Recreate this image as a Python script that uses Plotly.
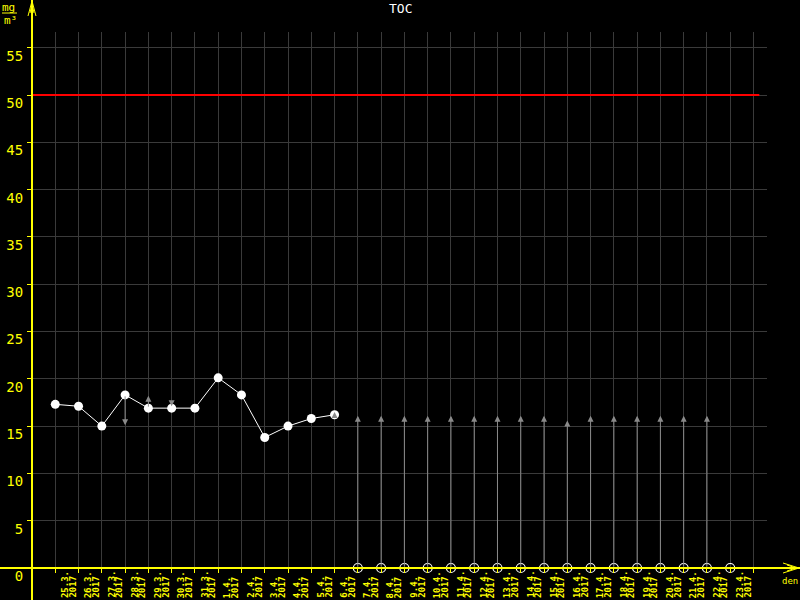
import plotly.graph_objects as go

# ---- data ----
day_labels = ["25.3.", "26.3.", "27.3.", "28.3.", "29.3.", "30.3.", "31.3.",
              "1.4.", "2.4.", "3.4.", "4.4.", "5.4.", "6.4.", "7.4.", "8.4.",
              "9.4.", "10.4.", "11.4.", "12.4.", "13.4.", "14.4.", "15.4.",
              "16.4.", "17.4.", "18.4.", "19.4.", "20.4.", "21.4.", "22.4.", "23.4."]
year = "2017"
toc_values = [17.3, 17.1, 15.0, 18.3, 16.9, 16.9, 16.9, 20.1, 18.3, 13.8, 15.0, 15.8, 16.2]
missing_days = list(range(13, 30))
# estimate arrows: (day, from, to)
est_days = [3, 4, 5, 12] + list(range(13, 29))
est_from = [18.3, 16.9, 17.6, 16.0] + [0] * 16
est_to = [15.1, 18.2, 17.1, 16.5] + [16.1] * 9 + [15.6] + [16.1] * 6
limit_value = 50
y_ticks = list(range(0, 60, 5))

# ---- geometry helpers (pixels -> paper) ----
L, R, T, B = 32, 33, 32, 32
W, H = 800, 600
PW, PH = W - L - R, H - T - B
def px(x):
    return (x - L) / PW
def py(y):
    return (H - B - y) / PH

YEL = "#ffff00"
GRID = "#3a3a3a"
GRAY = "#8a8a8a"
FONT = "DejaVu Sans Mono"

fig = go.Figure()

# limit line
fig.add_trace(go.Scatter(x=[-1, 30.25], y=[limit_value, limit_value], mode="lines",
                         line=dict(color="#ff0000", width=2), hoverinfo="skip"))

# measured values
fig.add_trace(go.Scatter(x=list(range(len(toc_values))), y=toc_values, mode="lines+markers",
                         line=dict(color="white", width=1),
                         marker=dict(color="white", size=9), cliponaxis=False))

# missing values
fig.add_trace(go.Scatter(x=missing_days, y=[0] * len(missing_days), mode="markers",
                         marker=dict(symbol="circle-open", color="white", size=9,
                                     line=dict(width=1.2)),
                         cliponaxis=False))

annotations = []
for d, f, t in zip(est_days, est_from, est_to):
    annotations.append(dict(x=d, y=t, ax=d, ay=f, xref="x", yref="y", axref="x", ayref="y",
                            text="", showarrow=True, arrowhead=2, arrowsize=1.2,
                            arrowwidth=1, arrowcolor=GRAY, standoff=0, startstandoff=0))

# x labels (right edge at the tick ending the day), two tight lines
for i, lab in enumerate(day_labels):
    for txt, shift in ((lab, -8), (year, 0)):
        annotations.append(dict(x=i + 1, y=py(599), xref="x", yref="paper",
                                text="<b>" + txt + "</b>", textangle=-90, xshift=shift,
                                xanchor="right", yanchor="bottom",
                                showarrow=False, borderpad=0,
                                font=dict(family=FONT, size=9, color=YEL)))

# title and units
annotations.append(dict(x=px(400), y=py(9), xref="paper", yref="paper", text="TOC",
                        showarrow=False, font=dict(family=FONT, size=13, color="white"),
                        xanchor="center", yanchor="middle"))
annotations.append(dict(x=px(790), y=py(581), xref="paper", yref="paper", text="den",
                        showarrow=False, font=dict(family=FONT, size=9, color=YEL),
                        xanchor="center", yanchor="middle"))
annotations.append(dict(x=px(9), y=py(7), xref="paper", yref="paper", text="mg",
                        showarrow=False, font=dict(family=FONT, size=11, color=YEL),
                        xanchor="center", yanchor="middle"))
annotations.append(dict(x=px(10), y=py(20), xref="paper", yref="paper", text="m³",
                        showarrow=False, font=dict(family=FONT, size=11, color=YEL),
                        xanchor="center", yanchor="middle"))

shapes = [
    # y axis line
    dict(type="line", xref="paper", yref="paper", x0=px(32), x1=px(32), y0=py(600), y1=py(0),
         line=dict(color=YEL, width=2)),
    # x axis line
    dict(type="line", xref="paper", yref="paper", x0=px(0), x1=px(800), y0=py(568), y1=py(568),
         line=dict(color=YEL, width=2)),
    # unit fraction bar
    dict(type="line", xref="paper", yref="paper", x0=px(2), x1=px(17), y0=py(13), y1=py(13),
         line=dict(color=YEL, width=1)),
]
# arrow heads of axes
for (x0, y0, x1, y1) in [(32, 1, 28, 16), (32, 1, 36, 16), (32, 4, 30, 13), (32, 4, 34, 13),
                         (799, 568, 783, 563), (799, 568, 783, 573),
                         (796, 568, 787, 565), (796, 568, 787, 571)]:
    shapes.append(dict(type="line", xref="paper", yref="paper", x0=px(x0), y0=py(y0),
                       x1=px(x1), y1=py(y1), line=dict(color=YEL, width=1)))

fig.update_layout(
    template="none",
    width=W, height=H, margin=dict(l=L, r=R, t=T, b=B, autoexpand=False),
    paper_bgcolor="black", plot_bgcolor="black", showlegend=False,
    annotations=annotations, shapes=shapes,
    xaxis=dict(range=[-1.0, 30.58], tickvals=list(range(0, 31)), showticklabels=False,
               ticks="outside", ticklen=4, tickcolor=YEL, tickwidth=1, automargin=False,
               showgrid=True, gridcolor=GRID, gridwidth=1, zeroline=False, showline=False),
    yaxis=dict(range=[0, 56.66], tickvals=y_ticks, ticks="outside", ticklen=4,
               tickcolor=YEL, tickwidth=1, ticklabelshift=8, ticklabelstandoff=1,
               automargin=False,
               tickfont=dict(family=FONT, size=14, color=YEL),
               showgrid=True, gridcolor=GRID, gridwidth=1, zeroline=False, showline=False),
)

fig.write_html("out.html", config={"displayModeBar": False},
               post_script="document.body.style.margin='0';document.body.style.background='black';")
